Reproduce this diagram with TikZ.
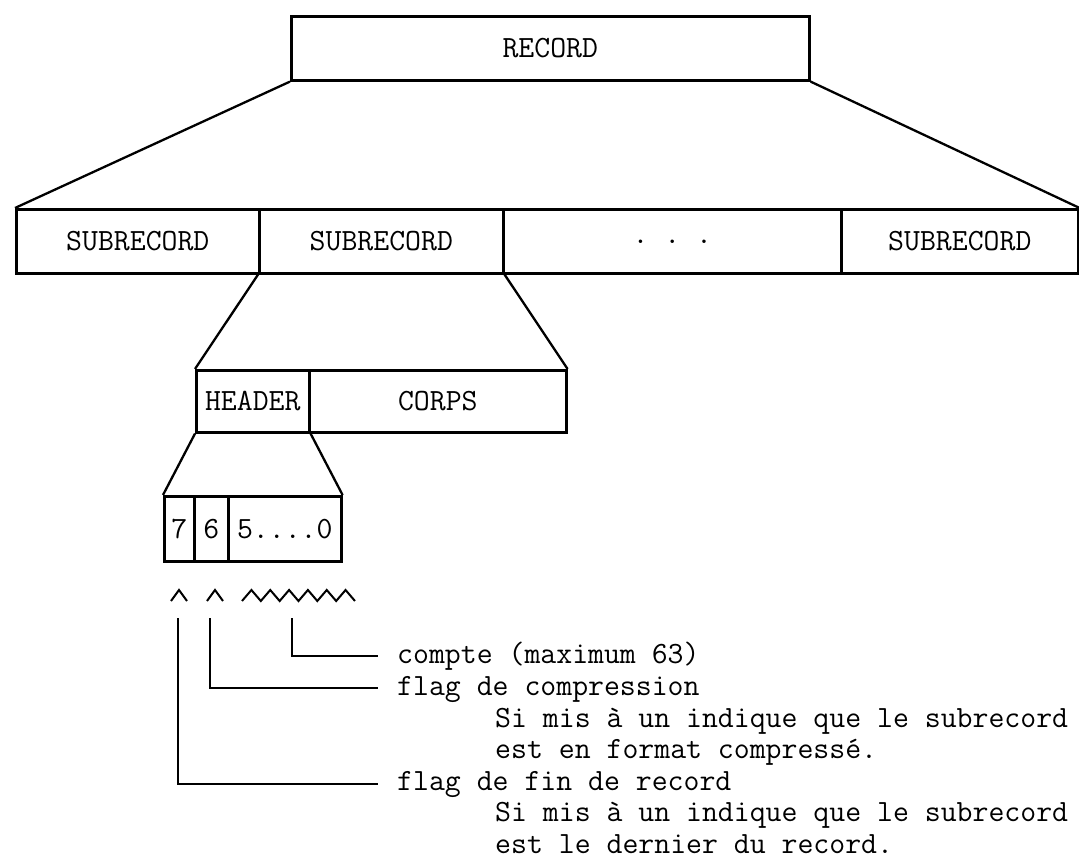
\documentclass[tikz,border=0pt]{standalone}
\begin{document}
\begin{tikzpicture}[x=1pt,y=-1pt,
  every node/.style={font=\fontsize{30.9}{36}\selectfont\ttfamily},
  cell/.style={draw,line width=2.6pt,rectangle,inner sep=0pt,anchor=north west},
  conn/.style={line width=2.3pt},
  lead/.style={line width=2.6pt},
  txt/.style={inner sep=0pt,anchor=base west}]
\useasboundingbox (0,0) rectangle (1079,858);
% record
\node[cell,minimum width=518pt,minimum height=64pt] (rec) at (290,15) {RECORD};
% subrecords
\node[cell,minimum width=243pt,minimum height=64pt] (s1) at (15,208) {SUBRECORD};
\node[cell,minimum width=244pt,minimum height=64pt] (s2) at (258,208) {SUBRECORD};
\node[cell,minimum width=338pt,minimum height=64pt] (s3) at (502,208) {.\ .\ .};
\node[cell,minimum width=237pt,minimum height=64pt] (s4) at (840,208) {SUBRECORD};
% header / corps
\node[cell,minimum width=113pt,minimum height=62pt] (hd) at (195,369) {HEADER};
\node[cell,minimum width=257pt,minimum height=62pt] (co) at (308,369) {CORPS};
% bits
\node[cell,minimum width=30pt,minimum height=65pt] (b7) at (163,495) {7};
\node[cell,minimum width=34pt,minimum height=65pt] (b6) at (193,495) {6};
\node[cell,minimum width=113pt,minimum height=65pt] (b5) at (227,495) {5....0};
% connectors
\draw[conn] (rec.south west) -- (s1.north west);
\draw[conn] (rec.south east) -- (s4.north east);
\draw[conn] (s2.south west) -- (hd.north west);
\draw[conn] (s2.south east) -- (co.north east);
\draw[conn] (hd.south west) -- (b7.north west);
\draw[conn] (hd.south east) -- (b5.north east);
% carets
\draw[line width=2pt] (171,601) -- (179,590) -- (187,601);
\draw[line width=2pt] (207,601) -- (215,590) -- (223,601);
\draw[line width=2pt] (242,601)
  \foreach \i in {0,...,5} { -- ({242+18.83*\i+9.42},590) -- ({242+18.83*(\i+1)},601) };
% leaders
\coordinate (v7) at (178,618);
\coordinate (v6) at (210,618);
\coordinate (v5) at (292,618);
\coordinate (e5) at (378,656);
\coordinate (e6) at (378,688);
\coordinate (e7) at (378,784);
\draw[lead] (v5) |- (e5);
\draw[lead] (v6) |- (e6);
\draw[lead] (v7) |- (e7);
% texts
\node[txt] (t1) at (397,663) {compte (maximum 63)};
\node[txt] (t2) at (397,695) {flag de compression};
\node[txt] (t3) at (495,727) {Si mis à un indique que le subrecord};
\node[txt] (t4) at (495,758) {est en format compressé.};
\node[txt] (t5) at (397,790) {flag de fin de record};
\node[txt] (t6) at (495,821) {Si mis à un indique que le subrecord};
\node[txt] (t7) at (495,853) {est le dernier du record.};
\end{tikzpicture}
\end{document}
